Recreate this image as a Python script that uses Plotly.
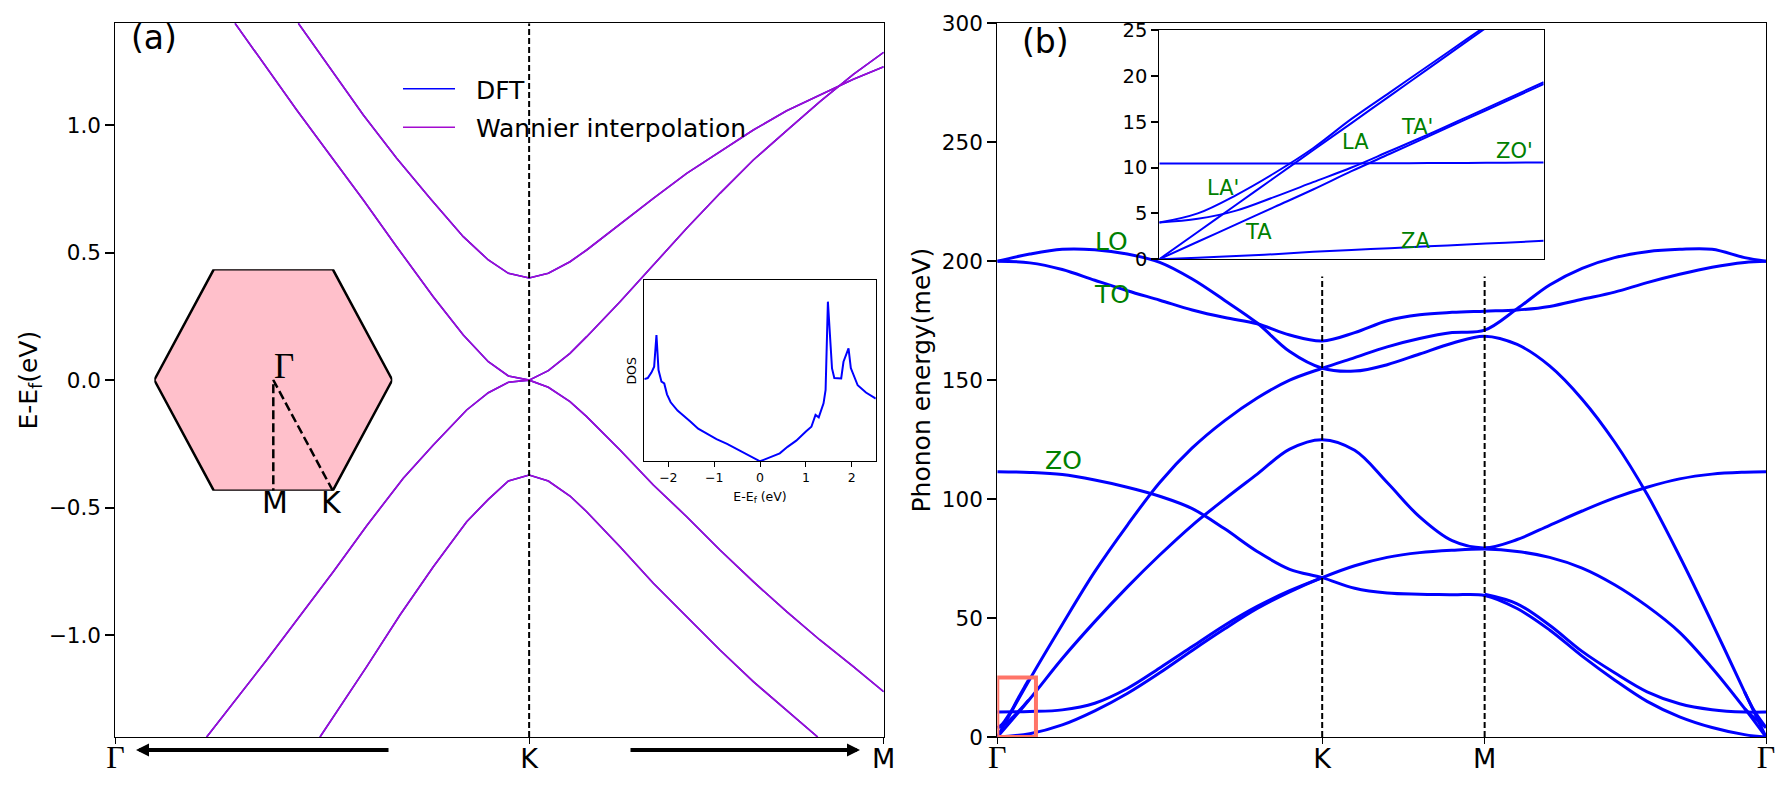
import plotly.graph_objects as go

W, H = 1781, 782  # page body adds 8px on the top and left
PAD = 8
BLUE = "#0000FF"
VIOLET = "#A30BCF"
GREEN = "#008000"

# (a) electronic bands near K
k_frac = 0.5385
band1_x = [0.2381, 0.2793, 0.3227, 0.3661, 0.4095, 0.4528, 0.4854, 0.5115, 0.5385, 0.5635, 0.5917, 0.6134, 0.6568, 0.7002, 0.7436, 0.7869, 0.8303, 0.8737, 0.917, 0.9605, 1.0]
band1_y = [1.4, 1.2234, 1.0402, 0.8702, 0.7134, 0.5629, 0.4714, 0.419, 0.4007, 0.4192, 0.4647, 0.5106, 0.6126, 0.7134, 0.8115, 0.8963, 0.9814, 1.0571, 1.1187, 1.1802, 1.2297]
band2_x = [0.1557, 0.1925, 0.236, 0.2793, 0.3227, 0.3661, 0.4137, 0.4528, 0.4854, 0.5115, 0.5385, 0.5635, 0.5917, 0.6134, 0.6568, 0.7002, 0.7436, 0.7869, 0.8303, 0.8737, 0.917, 0.9605, 1.0]
band2_y = [1.4, 1.243, 1.0598, 0.8833, 0.7067, 0.5235, 0.3274, 0.1771, 0.0724, 0.0163, 0.0, 0.0371, 0.1053, 0.1705, 0.3078, 0.4517, 0.5957, 0.733, 0.8637, 0.979, 1.0924, 1.1998, 1.2862]
band3_x = [0.1188, 0.1969, 0.2836, 0.3271, 0.3747, 0.4138, 0.4572, 0.4854, 0.5115, 0.5385, 0.5635, 0.5917, 0.6134, 0.6568, 0.7002, 0.7436, 0.7869, 0.8303, 0.8737, 0.917, 0.9605, 1.0]
band3_y = [-1.4, -1.098, -0.7514, -0.5709, -0.385, -0.2544, -0.1171, -0.0492, -0.0085, 0.0, -0.0281, -0.0845, -0.1434, -0.274, -0.4113, -0.5357, -0.6663, -0.7907, -0.9084, -1.0194, -1.1242, -1.2222]
band4_x = [0.2663, 0.3271, 0.3704, 0.4138, 0.4572, 0.4854, 0.5115, 0.5385, 0.5635, 0.5917, 0.6134, 0.6568, 0.7002, 0.7436, 0.7869, 0.8303, 0.8737, 0.9141]
band4_y = [-1.4, -1.124, -0.9213, -0.7318, -0.5552, -0.4676, -0.3957, -0.3721, -0.3957, -0.4545, -0.5161, -0.6534, -0.797, -0.928, -1.0587, -1.183, -1.2941, -1.4]
bands = [(band1_x, band1_y), (band2_x, band2_y), (band3_x, band3_y), (band4_x, band4_y)]

# DOS inset
dos_e = [-2.525, -2.45, -2.37, -2.31, -2.26, -2.215, -2.15, -2.09, -2.03, -1.95, -1.8, -1.65, -1.515, -1.35, -1.15, -0.95,
         -0.72, -0.43, -0.2, 0, 0.2, 0.43, 0.6, 0.79, 1.0, 1.12, 1.21, 1.28, 1.385, 1.43, 1.48, 1.53, 1.57, 1.62, 1.77,
         1.82, 1.93, 1.98, 2.13, 2.31, 2.525]
dos_v = [0.454, 0.46, 0.49, 0.523, 0.698, 0.504, 0.44, 0.43, 0.37, 0.326, 0.28, 0.25, 0.219, 0.18, 0.149, 0.122,
         0.096, 0.057, 0.03, 0, 0.02, 0.044, 0.08, 0.114, 0.165, 0.191, 0.256, 0.243, 0.32, 0.394, 0.882, 0.66, 0.513,
         0.46, 0.458, 0.55, 0.624, 0.515, 0.42, 0.38, 0.346]

# Brillouin zone sketch
hex_x = [-1, -0.5, 0.5, 1, 0.5, -0.5, -1]
hex_y = [0, 0.866, 0.866, 0, -0.866, -0.866, 0]
path_x = [0.5, 0, 0]
path_y = [-0.866, 0, -0.866]

# (b) phonons: path coordinate G=0, K=1, M=1.5, G=2.366
gk_x = [0, 0.1, 0.2, 0.3, 0.4, 0.5, 0.6, 0.7, 0.8, 0.9, 1.0]
km_x = [1.0, 1.1, 1.2, 1.3, 1.4, 1.5]
mg_x = [1.5, 1.6, 1.7, 1.8, 1.9, 2.0, 2.1, 2.2, 2.3, 2.366]

gk_lo = [200, 203, 205, 204.8, 203, 199.5, 192.5, 183.5, 174, 162, 155]
gk_to = [200, 199.3, 196.5, 192, 187.6, 183.6, 179.5, 176.3, 173.7, 169, 166.5]
gk_zo = [111.5, 111.2, 110.3, 108, 105, 101.2, 96, 87.5, 78, 70.5, 67]
gk_la = [0, 24.3, 47.3, 69.5, 89, 107, 121.5, 133, 142.5, 150, 155]
gk_ta = [0, 16, 33, 48.5, 63, 76.5, 89, 100, 110.5, 121, 125]
gk_zo2 = [10.5, 10.7, 11.4, 14.2, 20.4, 29, 38, 47, 54.9, 61.5, 67]
gk_za = [0, 1.4, 5.1, 11, 18.3, 27, 36.4, 45.5, 54, 61, 67]

km_1 = [166.5, 170, 175, 177.5, 178.5, 179]
km_2 = [155, 159.5, 164, 167.5, 170, 171]
km_3 = [155, 153.8, 156.5, 161, 165.5, 168.5]
km_4 = [125, 120.5, 107, 92.5, 82.5, 79.5]
km_5 = [67, 72, 75.5, 77.5, 78.5, 79]
km_6 = [67, 62.5, 60.5, 60, 59.8, 59.5]

mg_1 = [171, 180, 190, 197, 201.5, 204, 205, 205, 201.5, 200]
mg_2 = [179, 179.5, 181, 184, 187, 191, 194.5, 197.5, 199.5, 200]
mg_3 = [168.5, 165, 156, 142, 124, 102, 76, 48, 19, 0]
mg_4 = [79.5, 83, 89, 95, 100.5, 105, 108.5, 110.5, 111.3, 111.5]
mg_5 = [79, 78, 75.5, 71, 64, 55, 44, 29, 12, 0]
mg_6 = [60, 56, 47, 36, 27, 19, 14, 11.5, 10.5, 10.5]
mg_7 = [59.5, 54, 45, 34, 24, 15, 8.5, 4, 1, 0]

# near the zone centre, main panel and zoomed inset
near_x = [0, 0.012, 0.024, 0.036, 0.048, 0.06, 0.072, 0.084, 0.096, 0.108, 0.12]
near_la = [0, 2.97, 5.94, 8.91, 11.88, 14.85, 17.82, 20.79, 23.76, 26.7, 29.7]
near_la2 = [4.0, 5.0, 7.0, 9.4, 12.1, 15.3, 18.2, 21.1, 24.0, 26.9, 29.8]
near_ta2 = [4.0, 4.4, 5.3, 6.8, 8.4, 10.0, 11.8, 13.6, 15.5, 17.4, 19.3]
near_ta = [0, 1.9, 3.8, 5.7, 7.6, 9.6, 11.5, 13.4, 15.3, 17.2, 19.1]
near_zo2 = [10.45, 10.45, 10.45, 10.45, 10.45, 10.45, 10.47, 10.48, 10.5, 10.52, 10.55]
near_za = [0, 0.15, 0.35, 0.55, 0.8, 1.0, 1.2, 1.4, 1.6, 1.8, 2.0]

end_x = [2.3, 2.33, 2.366]
end_la2 = [19, 11, 4]
end_ta2 = [12, 8, 4]

# branches that run on through K and M without a kink
full_x = gk_x + km_x[1:] + mg_x[1:]
branches = [
    (full_x, gk_to + km_1[1:] + mg_2[1:]),
    (full_x, gk_lo + km_3[1:] + mg_3[1:]),
    (full_x, gk_la + km_2[1:] + mg_1[1:]),
    (full_x, gk_ta + km_4[1:] + mg_4[1:]),
    (full_x, gk_zo + km_6[1:] + mg_7[1:]),
    (full_x, gk_za + km_5[1:] + mg_5[1:]),
    (gk_x, gk_zo2),
    (mg_x, mg_6),
    (near_x[:9], near_la2[:9]),
    (near_x[:9], near_ta2[:9]),
    (end_x, end_la2),
    (end_x, end_ta2),
]


def px(a):
    return (a - PAD) / W


def py(a):
    return 1 - (a - PAD) / H


def dom_x(a, b):
    return [px(a), px(b)]


def dom_y(top, bottom):
    return [py(bottom), py(top)]


fig = go.Figure()

# panel a
for i, (bx, by) in enumerate(bands):
    fig.add_trace(go.Scatter(x=bx, y=by, mode="lines", name="\u00a0\u00a0DFT", xaxis="x", yaxis="y", legendgroup="dft",
                             showlegend=i == 0, line=dict(color=BLUE, width=1.6)))
for i, (bx, by) in enumerate(bands):
    fig.add_trace(go.Scatter(x=bx, y=by, mode="lines", name="\u00a0\u00a0Wannier interpolation", xaxis="x", yaxis="y",
                             legendgroup="wan", showlegend=i == 0, line=dict(color=VIOLET, width=1.6)))
fig.add_trace(go.Scatter(x=[k_frac, k_frac], y=[-1.4, 1.4], mode="lines", xaxis="x", yaxis="y", showlegend=False,
                         line=dict(color="black", width=2, dash="6px,3px")))

# hexagon
fig.add_trace(go.Scatter(x=hex_x, y=hex_y, mode="lines", fill="toself", fillcolor="#FFC0CB", xaxis="x5", yaxis="y5",
                         showlegend=False, line=dict(color="black", width=2.5)))
fig.add_trace(go.Scatter(x=path_x, y=path_y, mode="lines", xaxis="x5", yaxis="y5", showlegend=False,
                         line=dict(color="black", width=2.5, dash="9px,4px")))

# DOS
fig.add_trace(go.Scatter(x=dos_e, y=dos_v, mode="lines", xaxis="x3", yaxis="y3", showlegend=False,
                         line=dict(color=BLUE, width=2)))

# panel b
for bx, by in branches:
    fig.add_trace(go.Scatter(x=bx, y=by, mode="lines", xaxis="x2", yaxis="y2", showlegend=False,
                             line=dict(color=BLUE, width=3, shape="spline")))
for kx in [1.0, 1.5]:
    fig.add_trace(go.Scatter(x=[kx, kx], y=[0, 193.6], mode="lines", xaxis="x2", yaxis="y2", showlegend=False,
                             line=dict(color="black", width=2, dash="6px,3px")))

# zoom inset of panel b
for vals in [near_la, near_la2, near_ta2, near_ta, near_zo2, near_za]:
    fig.add_trace(go.Scatter(x=near_x, y=vals, mode="lines", xaxis="x4", yaxis="y4", showlegend=False,
                             line=dict(color=BLUE, width=2, shape="spline")))

axis = dict(automargin=False, showgrid=False, zeroline=False, showline=True, mirror=True, linecolor="black", linewidth=1.2,
            ticks="outside", tickcolor="black", tickwidth=2, ticklen=9, tickfont=dict(size=21.5, color="black"))
path_axis = dict(axis, ticklen=6, tickwidth=1.2, ticklabelstandoff=-9, tickfont=dict(size=27, color="black"))
serif_g = '<span style="font-family:Liberation Serif;font-size:32px">Γ</span>'

fig.update_layout(
    width=W, height=H, margin=dict(l=0, r=0, t=0, b=0),
    paper_bgcolor="white", plot_bgcolor="rgba(0,0,0,0)",
    font=dict(family="DejaVu Sans", color="black"),
    xaxis=dict(path_axis, domain=dom_x(115.4, 883.7), range=[0, 1], tickvals=[0, k_frac, 1],
               ticktext=[serif_g, "K", "M"], anchor="y"),
    yaxis=dict(axis, domain=dom_y(23.3, 737), range=[-1.4, 1.4], tickvals=[-1, -0.5, 0, 0.5, 1],
               tickformat=".1f", anchor="x", title=dict(text="E-E<sub>f</sub>(eV)", font=dict(size=25), standoff=4)),
    xaxis2=dict(path_axis, domain=dom_x(997.3, 1766), range=[0, 2.366], tickvals=[0, 1, 1.5, 2.366],
                ticktext=[serif_g, "K", "M", serif_g], anchor="y2"),
    yaxis2=dict(axis, domain=dom_y(23.3, 737), range=[0, 300], tickvals=[0, 50, 100, 150, 200, 250, 300], anchor="x2",
                title=dict(text="Phonon energy(meV)", font=dict(size=25), standoff=4)),
    xaxis3=dict(axis, domain=dom_x(644.3, 875.8), range=[-2.525, 2.525], tickvals=[-2, -1, 0, 1, 2], anchor="y3",
                ticklen=5, tickwidth=1.2, tickfont=dict(size=12.5, color="black"),
                title=dict(text="E-E<sub>f</sub> (eV)", font=dict(size=12.5), standoff=7)),
    yaxis3=dict(axis, domain=dom_y(280.3, 461.3), range=[0, 1], ticks="", showticklabels=False, anchor="x3",
                title=dict(text="DOS", font=dict(size=12.5), standoff=3)),
    xaxis4=dict(axis, domain=dom_x(1159.3, 1543.7), range=[0, 0.12], ticks="", showticklabels=False, anchor="y4"),
    yaxis4=dict(axis, domain=dom_y(30, 259.2), range=[0, 25], tickvals=[0, 5, 10, 15, 20, 25], anchor="x4",
                ticklen=7, tickfont=dict(size=19.5, color="black")),
    xaxis5=dict(domain=dom_x(154.3, 392.3), range=[-1, 1], visible=False, anchor="y5", fixedrange=True, automargin=False),
    yaxis5=dict(domain=dom_y(269.3, 490.7), range=[-0.866, 0.866], visible=False, anchor="x5", fixedrange=True, automargin=False),
    legend=dict(x=px(398), y=py(66), xanchor="left", yanchor="top", bgcolor="rgba(0,0,0,0)",
                font=dict(size=25), itemwidth=52, tracegroupgap=3),
    shapes=[dict(type="rect", xref="x2", yref="y2", x0=0, x1=0.119, y0=0, y1=25, line=dict(color="#FF7468", width=4))],
)

annots = [
    dict(text="(a)", x=px(154), y=py(38), xref="paper", yref="paper", size=33, color="black"),
    dict(text="(b)", x=px(1045), y=py(42), xref="paper", yref="paper", size=33, color="black"),
    dict(text="M", x=px(275), y=py(503), xref="paper", yref="paper", size=30, color="black"),
    dict(text="K", x=px(331.7), y=py(503), xref="paper", yref="paper", size=30, color="black"),
    dict(text="LO", x=0.352, y=208.4, xref="x2", yref="y2", size=25, color=GREEN),
    dict(text="TO", x=0.352, y=186, xref="x2", yref="y2", size=25, color=GREEN),
    dict(text="ZO", x=0.204, y=116.4, xref="x2", yref="y2", size=25, color=GREEN),
    dict(text="LA'", x=0.02, y=7.75, xref="x4", yref="y4", size=21, color=GREEN),
    dict(text="LA", x=0.0611, y=12.75, xref="x4", yref="y4", size=21, color=GREEN),
    dict(text="TA'", x=0.0804, y=14.4, xref="x4", yref="y4", size=21, color=GREEN),
    dict(text="ZO'", x=0.111, y=11.75, xref="x4", yref="y4", size=21, color=GREEN),
    dict(text="TA", x=0.0311, y=3, xref="x4", yref="y4", size=21, color=GREEN),
    dict(text="ZA", x=0.08, y=2, xref="x4", yref="y4", size=21, color=GREEN),
]
for a in annots:
    size, color = a.pop("size"), a.pop("color")
    fig.add_annotation(showarrow=False, xanchor="center", yanchor="middle", font=dict(size=size, color=color), **a)
fig.add_annotation(text="Γ", x=px(284), y=py(366), xref="paper", yref="paper", showarrow=False, xanchor="center",
                   yanchor="middle", font=dict(size=35, family="Liberation Serif", color="black"))

# arrows under panel a
fig.add_annotation(x=px(136), y=py(750), ax=254, ay=0, xref="paper", yref="paper",
                   text="", showarrow=True, arrowhead=2, arrowsize=0.65, arrowwidth=4, arrowcolor="black")
fig.add_annotation(x=px(860), y=py(750), ax=-231, ay=0, xref="paper", yref="paper",
                   text="", showarrow=True, arrowhead=2, arrowsize=0.65, arrowwidth=4, arrowcolor="black")

fig.write_html("out.html")
